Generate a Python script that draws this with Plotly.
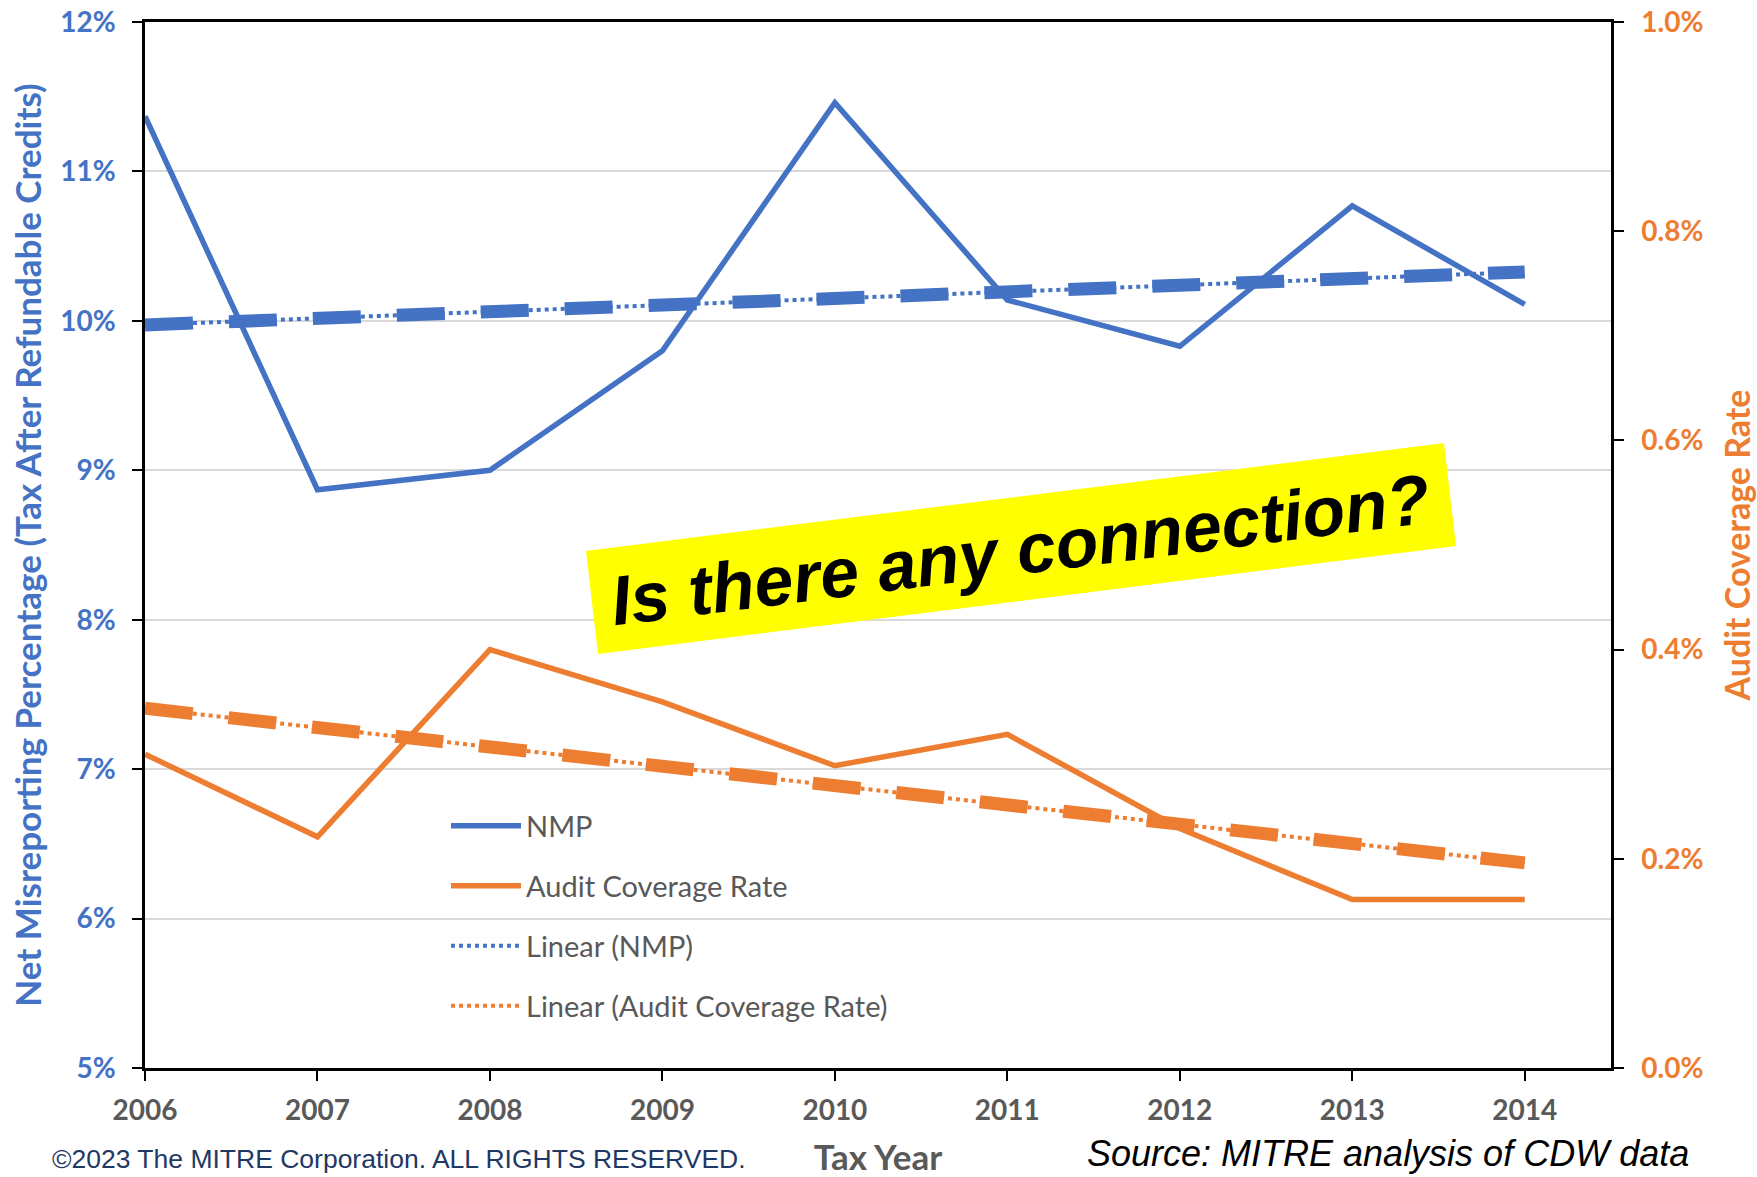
import numpy as np
import plotly.graph_objects as go

# ---------------- data ----------------
years = [2006, 2007, 2008, 2009, 2010, 2011, 2012, 2013, 2014]
nmp_pct = [11.37, 8.87, 9.00, 9.80, 11.46, 10.14, 9.83, 10.77, 10.11]
audit_pct = [0.300, 0.221, 0.400, 0.350, 0.289, 0.319, 0.229, 0.161, 0.161]
left_ticks = [5, 6, 7, 8, 9, 10, 11, 12]
right_ticks = [0.0, 0.2, 0.4, 0.6, 0.8, 1.0]
series_names = ["NMP", "Audit Coverage Rate", "Linear (NMP)", "Linear (Audit Coverage Rate)"]
callout_text = "Is there any connection?"

BLUE = "#4472C4"
ORANGE = "#ED7D31"
GRAY = "#595959"

# linear trend lines (Excel "Linear" trendline = least-squares fit)
nmp_fit = np.polyfit(years, nmp_pct, 1)
aud_fit = np.polyfit(years, audit_pct, 1)
trend_x = [years[0], years[-1]]
nmp_trend = list(np.polyval(nmp_fit, trend_x))
aud_trend = list(np.polyval(aud_fit, trend_x))

# ---------------- geometry helpers (page pixel -> paper) ----------------
FW, FH = 1757, 1177
L, R, T, B = 145, 1611, 22, 1068   # plot area in page pixels
def px(x):
    return (x - L) / (R - L)
def py(y):
    return (B - y) / (B - T)

fig = go.Figure()

# thick dashed overlays (no legend)
fig.add_trace(go.Scatter(x=trend_x, y=nmp_trend, mode="lines", yaxis="y",
                         line=dict(color=BLUE, width=13, dash="48px,36px"),
                         showlegend=False, hoverinfo="skip"))
fig.add_trace(go.Scatter(x=trend_x, y=aud_trend, mode="lines", yaxis="y2",
                         line=dict(color=ORANGE, width=13, dash="48px,36px"),
                         showlegend=False, hoverinfo="skip"))

# main series
fig.add_trace(go.Scatter(x=years, y=nmp_pct, mode="lines", name=series_names[0], yaxis="y",
                         line=dict(color=BLUE, width=5.5), legend="legend"))
fig.add_trace(go.Scatter(x=years, y=audit_pct, mode="lines", name=series_names[1], yaxis="y2",
                         line=dict(color=ORANGE, width=5.5), legend="legend2"))
# dotted trend lines
fig.add_trace(go.Scatter(x=trend_x, y=nmp_trend, mode="lines", name=series_names[2], yaxis="y",
                         line=dict(color=BLUE, width=4, dash="dot"), legend="legend3"))
fig.add_trace(go.Scatter(x=trend_x, y=aud_trend, mode="lines", name=series_names[3], yaxis="y2",
                         line=dict(color=ORANGE, width=4, dash="dot"), legend="legend4"))

tickfont_common = dict(family="Lato", size=28, weight="bold")
legend_font = dict(family="Lato", size=29, color=GRAY)
def leg(yc):
    return dict(x=px(446), y=py(yc), xanchor="left", yanchor="middle",
                bgcolor="rgba(0,0,0,0)", borderwidth=0, font=legend_font,
                itemwidth=70)

fig.update_layout(
    width=FW, height=FH,
    margin=dict(l=L, r=FW - R, t=T, b=FH - B, autoexpand=False),
    paper_bgcolor="white", plot_bgcolor="white",
    xaxis=dict(range=[2006, 2014.5], tickvals=years, ticktext=[str(y) for y in years],
               showline=True, linecolor="black", linewidth=2.5, mirror=True,
               ticks="outside", ticklen=10, tickwidth=2, tickcolor="black",
               showgrid=False, zeroline=False, ticklabelstandoff=6,
               tickfont=dict(color=GRAY, **tickfont_common),
               title=dict(text="Tax Year", standoff=24,
                          font=dict(family="Lato", size=35, weight="bold", color=GRAY))),
    yaxis=dict(range=[5, 12], tickvals=left_ticks, ticktext=[f"{v}%" for v in left_ticks],
               showline=True, linecolor="black", linewidth=2.5,
               ticks="outside", ticklen=10, tickwidth=2, tickcolor="black",
               showgrid=True, gridcolor="#D9D9D9", gridwidth=2, zeroline=False,
               ticklabelstandoff=11, ticklabeloverflow="allow",
               tickfont=dict(color=BLUE, **tickfont_common),
               title=dict(text="Net Misreporting Percentage (Tax After Refundable Credits)",
                          standoff=8,
                          font=dict(family="Lato", size=35, weight="bold", color=BLUE))),
    yaxis2=dict(range=[0, 1.0], overlaying="y", side="right", tickvals=right_ticks,
                ticktext=[f"{v:.1f}%" for v in right_ticks],
                showline=True, linecolor="black", linewidth=2.5,
                ticks="outside", ticklen=10, tickwidth=2, tickcolor="black",
                showgrid=False, zeroline=False, ticklabelstandoff=12,
                ticklabeloverflow="allow",
                tickfont=dict(color=ORANGE, **tickfont_common),
                title=dict(text="Audit Coverage Rate", standoff=26,
                           font=dict(family="Lato", size=34, weight="bold", color=ORANGE))),
    legend=leg(826), legend2=leg(886), legend3=leg(946), legend4=leg(1006),
)

# yellow callout box (rotated rectangle)
corners = [(586, 551), (1444, 443), (1456, 546), (598, 654)]
path = "M " + " L ".join(f"{px(x):.5f},{py(y):.5f}" for x, y in corners) + " Z"
fig.add_shape(type="path", path=path, xref="paper", yref="paper",
              fillcolor="#FFFF00", line=dict(width=0), layer="above")

fig.add_annotation(x=px(1021), y=py(550), xref="paper", yref="paper",
                   text=f"<b><i>{callout_text}</i></b>", showarrow=False,
                   textangle=-7.2, xanchor="center", yanchor="middle",
                   font=dict(family="Liberation Sans", size=70, color="black"))

fig.add_annotation(x=px(50), y=py(1159), xref="paper", yref="paper",
                   text="©2023 The MITRE Corporation. ALL RIGHTS RESERVED.",
                   showarrow=False, xanchor="left", yanchor="middle",
                   font=dict(family="Liberation Sans", size=26.5, color="#1F3864"))
fig.add_annotation(x=px(1085), y=py(1153), xref="paper", yref="paper",
                   text="<i>Source: MITRE analysis of CDW data</i>",
                   showarrow=False, xanchor="left", yanchor="middle",
                   font=dict(family="Liberation Sans", size=36, color="black"))

fig.write_html("out.html", config={"displayModeBar": False},
               post_script="document.body.style.margin='0';")
